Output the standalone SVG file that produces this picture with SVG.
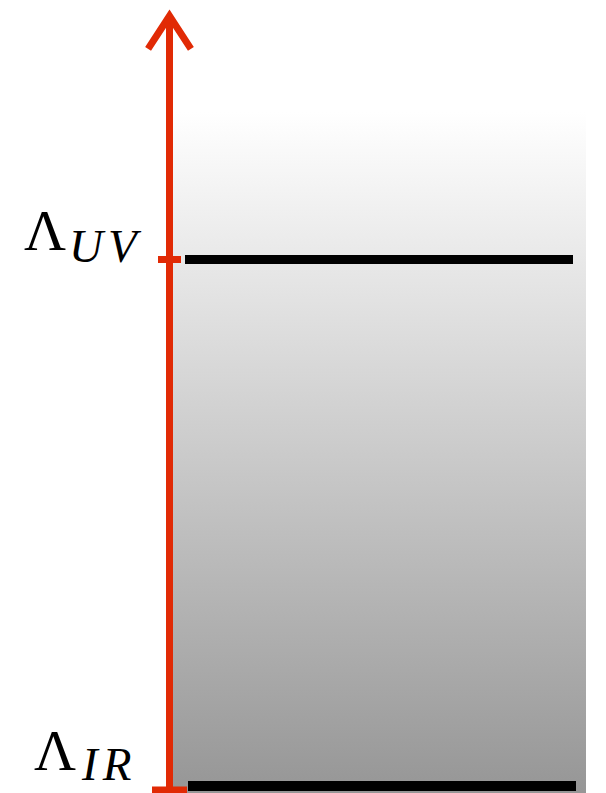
<svg xmlns="http://www.w3.org/2000/svg" width="606" height="793" viewBox="0 0 606 793">
<defs>
<linearGradient id="g" x1="0" y1="0" x2="0" y2="1">
<stop offset="0" stop-color="#ffffff"/>
<stop offset="1" stop-color="#969696"/>
</linearGradient>
<style>
.lbl{font-family:"Liberation Serif","DejaVu Serif",serif;fill:#000}
.sub{font-style:italic;letter-spacing:5px}
.red{stroke:#e12a05;fill:none}
.lvl{stroke:#000;fill:none}
</style>
</defs>
<rect id="bg" x="170" y="112" width="416" height="681" fill="url(#g)"/>
<g id="connectors">
<line class="red" x1="169.5" y1="793" x2="169.5" y2="16" stroke-width="7"/>
<polyline class="red" points="150,46 169.5,16 189,46" stroke-width="7" stroke-linecap="square"/>
</g>
<g id="uv">
<line class="red" x1="158" y1="259.5" x2="181" y2="259.5" stroke-width="7"/>
<line class="lvl" x1="185" y1="259.5" x2="573" y2="259.5" stroke-width="9"/>
<text class="lbl" x="24" y="250" font-size="58">Λ<tspan class="sub" font-size="47" dx="3" dy="12">UV</tspan></text>
</g>
<g id="ir">
<line class="red" x1="152" y1="790" x2="187" y2="790" stroke-width="7"/>
<line class="lvl" x1="188" y1="786" x2="576" y2="786" stroke-width="10"/>
<text class="lbl" x="34" y="770" font-size="58">Λ<tspan class="sub" font-size="47" dx="6" dy="10">IR</tspan></text>
</g>
</svg>
